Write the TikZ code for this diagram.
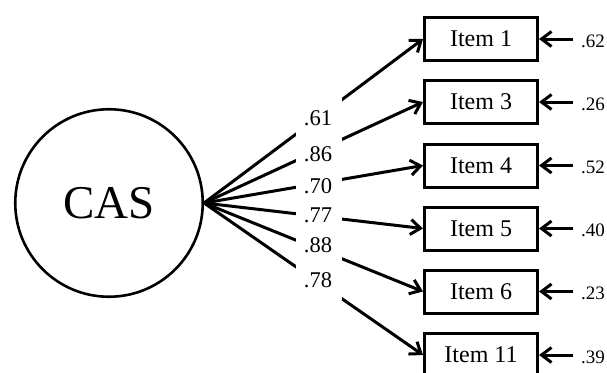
\documentclass[tikz,border=0pt]{standalone}
\usepackage{fontspec}
\setmainfont{Liberation Serif}
\usetikzlibrary{arrows.meta}
\begin{document}
\begin{tikzpicture}[x=1pt,y=-1pt,
  lat/.style={circle,draw,line width=2.6pt,minimum size=187.5pt,inner sep=0pt,font=\fontsize{47}{50}\selectfont},
  itembox/.style={draw,line width=3pt,minimum width=113pt,minimum height=43pt,inner sep=0pt,font=\fontsize{24}{26}\selectfont},
  load/.style={line width=3pt,-{Straight Barb[length=10pt,width=15pt]}},
  lbl/.style={font=\fontsize{22.5}{24}\selectfont,inner sep=0pt,anchor=base},
  errlbl/.style={font=\fontsize{19}{22}\selectfont,anchor=base west,inner sep=0pt}]
\useasboundingbox (0,0) rectangle (607,372);

\node[lat] (cas) at (109,203) {CAS};

\node[itembox] (i1) at (481,39) {Item 1};
\node[itembox] (i3) at (481,102) {Item 3};
\node[itembox] (i4) at (481,165.5) {Item 4};
\node[itembox] (i5) at (481,228.5) {Item 5};
\node[itembox] (i6) at (481,291.5) {Item 6};
\node[itembox] (i11) at (481,355) {Item 11};

\foreach \n in {i1,i3,i4,i5,i6,i11}
  \draw[load] (cas.east) -- (\n.west);

% white column behind the loading labels
\fill[white] (296,95) rectangle (342,300);

\node[lbl] (l1) at (318,125) {.61};
\node[lbl] (l3) at (318,161) {.86};
\node[lbl] (l4) at (318,193) {.70};
\node[lbl] (l5) at (318,222) {.77};
\node[lbl] (l6) at (318,252) {.88};
\node[lbl] (l11) at (318,287) {.78};

\coordinate (e1) at (573,39);
\coordinate (e3) at (573,102);
\coordinate (e4) at (573,165.5);
\coordinate (e5) at (573,228.5);
\coordinate (e6) at (573,291.5);
\coordinate (e11) at (573,355);
\foreach \n in {1,3,4,5,6,11}
  \draw[load] (e\n) -- (i\n.east);

\node[errlbl] (r1) at (581,47) {.62};
\node[errlbl] (r3) at (581,110) {.26};
\node[errlbl] (r4) at (581,173.5) {.52};
\node[errlbl] (r5) at (581,236.5) {.40};
\node[errlbl] (r6) at (581,299.5) {.23};
\node[errlbl] (r11) at (581,363) {.39};
\end{tikzpicture}
\end{document}
